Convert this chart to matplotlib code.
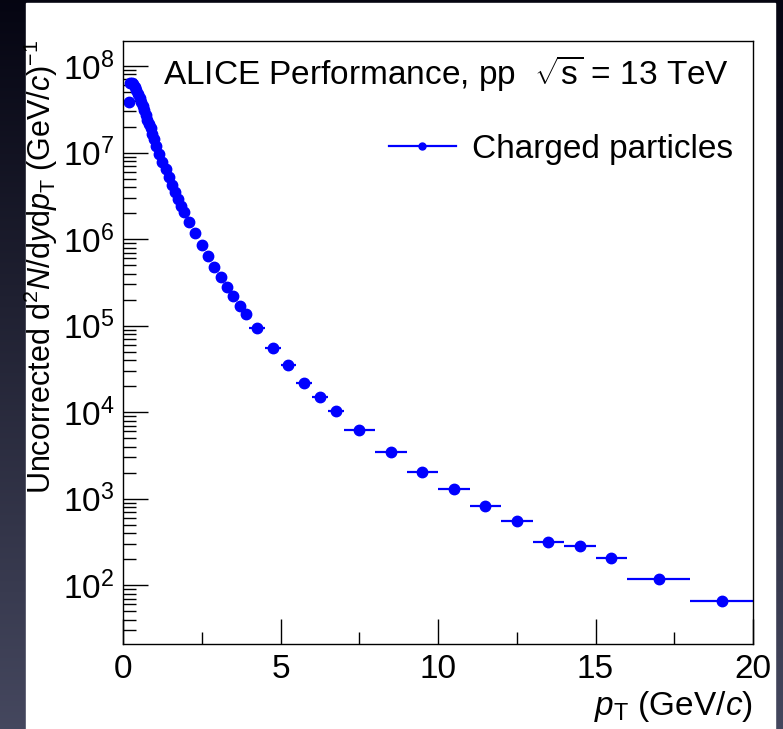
import numpy as np
import matplotlib
matplotlib.use("Agg")
import matplotlib.pyplot as plt
from matplotlib.lines import Line2D
from matplotlib.patches import Rectangle

plt.rcParams['font.family'] = ['Liberation Sans', 'DejaVu Sans']
plt.rcParams['mathtext.fontset'] = 'custom'
plt.rcParams['mathtext.rm'] = 'Liberation Sans'
plt.rcParams['mathtext.it'] = 'Liberation Sans:italic'
plt.rcParams['mathtext.bf'] = 'Liberation Sans:bold'
plt.rcParams['mathtext.sf'] = 'Liberation Sans'

# pT bin edges (GeV/c)
bin_edges = ([0.15 + 0.05 * i for i in range(17)]
             + [1.0 + 0.1 * i for i in range(10)]
             + [2.0 + 0.2 * i for i in range(10)]
             + [4.0 + 0.5 * i for i in range(6)]
             + [7.0 + 1.0 * i for i in range(9)]
             + [16.0, 18.0, 20.0])

# log10 of the uncorrected yield, one value per bin
log_yield = [7.58, 7.80, 7.81, 7.79, 7.76, 7.72, 7.68, 7.63, 7.59, 7.54,
             7.49, 7.44, 7.38, 7.33, 7.28, 7.22, 7.16,
             7.075, 6.98, 6.887, 6.806, 6.717, 6.628, 6.543, 6.459, 6.385, 6.312,
             6.20, 6.066, 5.931, 5.80, 5.676, 5.561, 5.449, 5.338, 5.229, 5.136,
             4.968, 4.744, 4.54, 4.339, 4.173, 4.008,
             3.792, 3.534, 3.31, 3.11, 2.913, 2.744, 2.497, 2.447, 2.312,
             2.069, 1.818]

edges = np.array(bin_edges)
pt = 0.5 * (edges[:-1] + edges[1:])
half_width = 0.5 * (edges[1:] - edges[:-1])
yields = 10 ** np.array(log_yield)

W, H = 783, 729
fig = plt.figure(figsize=(W / 100, H / 100), dpi=100)

# dark slide background with a white panel
bg = fig.add_axes([0, 0, 1, 1])
grad = np.linspace(0, 1, 256)[:, None]
top_c = np.array([0.02, 0.02, 0.07])
bot_c = np.array([0.27, 0.28, 0.37])
img = top_c + (bot_c - top_c) * grad[..., None]
bg.imshow(img, aspect='auto', extent=[0, 1, 0, 1], origin='upper')
bg.add_patch(Rectangle((26 / W, 0), (775 - 26) / W, (H - 3) / H, color='white'))
bg.set_xlim(0, 1)
bg.set_ylim(0, 1)
bg.axis('off')

ax = fig.add_axes([123 / W, (H - 644) / H, (753 - 123) / W, (644 - 41) / H])
ax.errorbar(pt, yields, xerr=half_width, fmt='o', color='blue', ms=7.5,
            elinewidth=1.6, capsize=0)
ax.set_yscale('log')
ax.set_xlim(0, 20)
ax.set_ylim(10 ** 1.32, 10 ** 8.29)

ax.set_xticks([0, 5, 10, 15, 20])
ax.set_xticks([2.5, 7.5, 12.5, 17.5], minor=True)
ax.set_yticks([1e2, 1e3, 1e4, 1e5, 1e6, 1e7, 1e8])
ax.tick_params(which='both', direction='in', top=False, right=False,
               labelsize=24, width=1)
ax.tick_params(which='major', length=18)
ax.tick_params(which='minor', length=9)
ax.tick_params(axis='x', pad=7)
ax.tick_params(axis='y', pad=6)
for s in ax.spines.values():
    s.set_linewidth(1)

ax.text(0.063, 0.98, r'ALICE Performance, pp  $\sqrt{\mathrm{s}}$ = 13 TeV',
        transform=ax.transAxes, fontsize=24, va='top', ha='left')

handle = Line2D([], [], color='blue', lw=1.6, marker='o', ms=5)
ax.legend([handle], ['Charged particles'], loc='upper left',
          bbox_to_anchor=(0.385, 0.885), frameon=False, fontsize=24,
          handlelength=2.0, handletextpad=0.5, borderpad=0.2)

fig.text(41 / W, (H - 40) / H,
         r'Uncorrected d$^{2}$$N$/d$y$d$p_{\mathrm{T}}$ (GeV/$c$)$^{-1}$',
         rotation=90, ha='center', va='top', fontsize=22)
fig.text(753 / W, (H - 706) / H, r'$p_{\mathrm{T}}$ (GeV/$c$)',
         ha='right', va='center', fontsize=24)

fig.savefig('out.png', dpi=100)
